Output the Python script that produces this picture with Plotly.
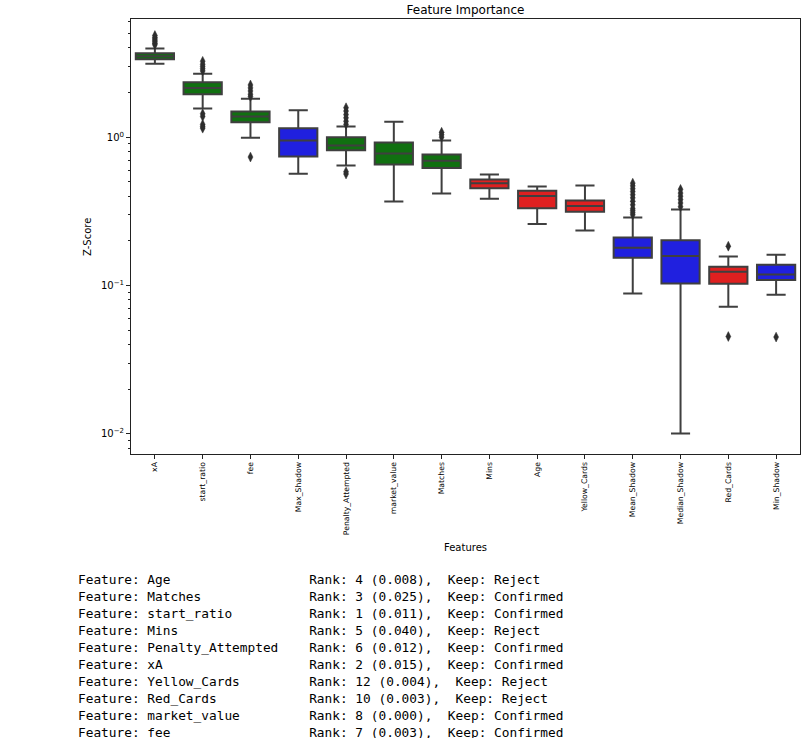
import plotly.graph_objects as go

# ---- data ----
features = ["xA", "start_ratio", "fee", "Max_Shadow", "Penalty_Attempted",
            "market_value", "Matches", "Mins", "Age", "Yellow_Cards",
            "Mean_Shadow", "Median_Shadow", "Red_Cards", "Min_Shadow"]
group = ["g", "g", "g", "b", "g", "g", "g", "r", "r", "r", "b", "b", "r", "b"]

q1 = [3.36, 1.95, 1.26, 0.74, 0.817, 0.654, 0.621, 0.453, 0.332, 0.314, 0.154, 0.103, 0.1026, 0.109]
median = [3.52, 2.15, 1.38, 0.949, 0.878, 0.775, 0.695, 0.490, 0.402, 0.344, 0.180, 0.158, 0.1236, 0.1186]
q3 = [3.68, 2.35, 1.49, 1.15, 1.0, 0.92, 0.764, 0.518, 0.436, 0.374, 0.211, 0.202, 0.134, 0.138]
lower_whisker = [3.13, 1.56, 0.99, 0.568, 0.644, 0.368, 0.417, 0.384, 0.260, 0.235, 0.0882, 0.01005, 0.0718, 0.0865]
upper_whisker = [3.96, 2.68, 1.82, 1.52, 1.18, 1.27, 0.949, 0.560, 0.465, 0.472, 0.287, 0.325, 0.157, 0.161]

outliers = {
    "xA": [4.2, 4.3, 4.4, 4.5, 4.6, 4.7, 4.85],
    "start_ratio": [2.8, 2.9, 3.0, 3.1, 3.25, 1.44, 1.38, 1.22, 1.18, 1.15],
    "fee": [1.88, 1.95, 2.05, 2.15, 2.25, 0.735],
    "Penalty_Attempted": [1.22, 1.28, 1.35, 1.42, 1.5, 1.58, 0.585, 0.565],
    "Matches": [1.0, 1.04, 1.08],
    "Mean_Shadow": [0.30, 0.31, 0.32, 0.33, 0.35, 0.37, 0.39, 0.41, 0.43, 0.45, 0.47, 0.49],
    "Median_Shadow": [0.34, 0.36, 0.38, 0.40, 0.42, 0.445],
    "Red_Cards": [0.184, 0.0453],
    "Min_Shadow": [0.0449],
}

# report lines printed below the chart
report_features = ["Age", "Matches", "start_ratio", "Mins", "Penalty_Attempted",
                   "xA", "Yellow_Cards", "Red_Cards", "market_value", "fee"]
report_rank = [4, 3, 1, 5, 6, 2, 12, 10, 8, 7]
report_p = [0.008, 0.025, 0.011, 0.040, 0.012, 0.015, 0.004, 0.003, 0.000, 0.003]
report_keep = ["Reject", "Confirmed", "Confirmed", "Reject", "Confirmed",
               "Confirmed", "Reject", "Reject", "Confirmed", "Confirmed"]

# ---- styles ----
fill = {"g": "#107010", "b": "#2020df", "r": "#df2020"}
edge = "#3f3f3f"

W, H = 806, 738
L, R, T, B = 131, 800, 19, 454


def px(xp):
    return (xp - L) / (R - L)


def py(yp):
    return (B - yp) / (B - T)


fig = go.Figure()
for i, f in enumerate(features):
    fig.add_trace(go.Box(
        x=[f], q1=[q1[i]], median=[median[i]], q3=[q3[i]],
        lowerfence=[lower_whisker[i]], upperfence=[upper_whisker[i]],
        fillcolor=fill[group[i]], line=dict(color=edge, width=2),
        boxpoints=False, width=0.8, whiskerwidth=0.5, showlegend=False,
        hoverinfo="skip",
    ))

ox, oy = [], []
for f in features:
    for v in outliers.get(f, []):
        ox.append(f)
        oy.append(v)
fig.add_trace(go.Scatter(
    x=ox, y=oy, mode="markers", showlegend=False, hoverinfo="skip",
    marker=dict(symbol="diamond-tall", size=7, color="#2e2e2e",
                line=dict(color="#2e2e2e", width=0.5)),
))

minor_vals = []
for e in [-3, -2, -1, 0]:
    for m in range(2, 10):
        minor_vals.append(m * 10 ** e)

fig.update_layout(
    width=W, height=H,
    margin=dict(l=L, r=W - R, t=T, b=H - B, pad=0),
    paper_bgcolor="white", plot_bgcolor="white",
    boxmode="overlay",
    font=dict(family="DejaVu Sans", color="black"),
    title=dict(text="Feature Importance", x=0.5, xref="paper", xanchor="center",
               y=1 - 10 / H, yanchor="middle", font=dict(size=12, color="black")),
    xaxis=dict(
        type="category", categoryorder="array", categoryarray=features,
        range=[-0.5, len(features) - 0.5],
        showline=True, linecolor="#222", linewidth=1, mirror=True,
        ticks="outside", ticklen=4, tickcolor="#222", tickwidth=1,
        tickangle=-90, tickfont=dict(size=7.7, color="black"),
        showgrid=False, zeroline=False,
    ),
    yaxis=dict(
        type="log", range=[-2.136, 0.797],
        tickvals=[0.01, 0.1, 1], ticktext=["10<sup>−2</sup>", "10<sup>−1</sup>", "10<sup>0</sup>"],
        showline=True, linecolor="#222", linewidth=1, mirror=True,
        ticks="outside", ticklen=4, tickcolor="#222", tickwidth=1,
        tickfont=dict(size=10, color="black"),
        minor=dict(tickvals=minor_vals, ticks="outside", ticklen=2,
                   tickcolor="#222", tickwidth=0.8, showgrid=False),
        showgrid=False, zeroline=False,
    ),
)

fig.add_annotation(text="Z-Score", x=px(88), y=py(237), xref="paper", yref="paper",
                   textangle=-90, showarrow=False, font=dict(size=10, color="black"),
                   xanchor="center", yanchor="middle")
fig.add_annotation(text="Features", x=px(465), y=py(547), xref="paper", yref="paper",
                   showarrow=False, font=dict(size=10, color="black"),
                   xanchor="center", yanchor="middle")

for k, name in enumerate(report_features):
    line = f"Feature: {name:<20} Rank: {report_rank[k]} ({report_p[k]:.3f}),  Keep: {report_keep[k]}"
    fig.add_annotation(text=line.replace(" ", "\u00a0"), x=px(76), y=py(579 + 17 * k),
                       xref="paper", yref="paper", showarrow=False,
                       xanchor="left", yanchor="middle",
                       font=dict(family="DejaVu Sans Mono", size=12.8, color="black"))

fig.write_html("out.html", config={"displayModeBar": False},
               post_script="document.body.style.margin='0px';document.body.style.padding='0px';")
